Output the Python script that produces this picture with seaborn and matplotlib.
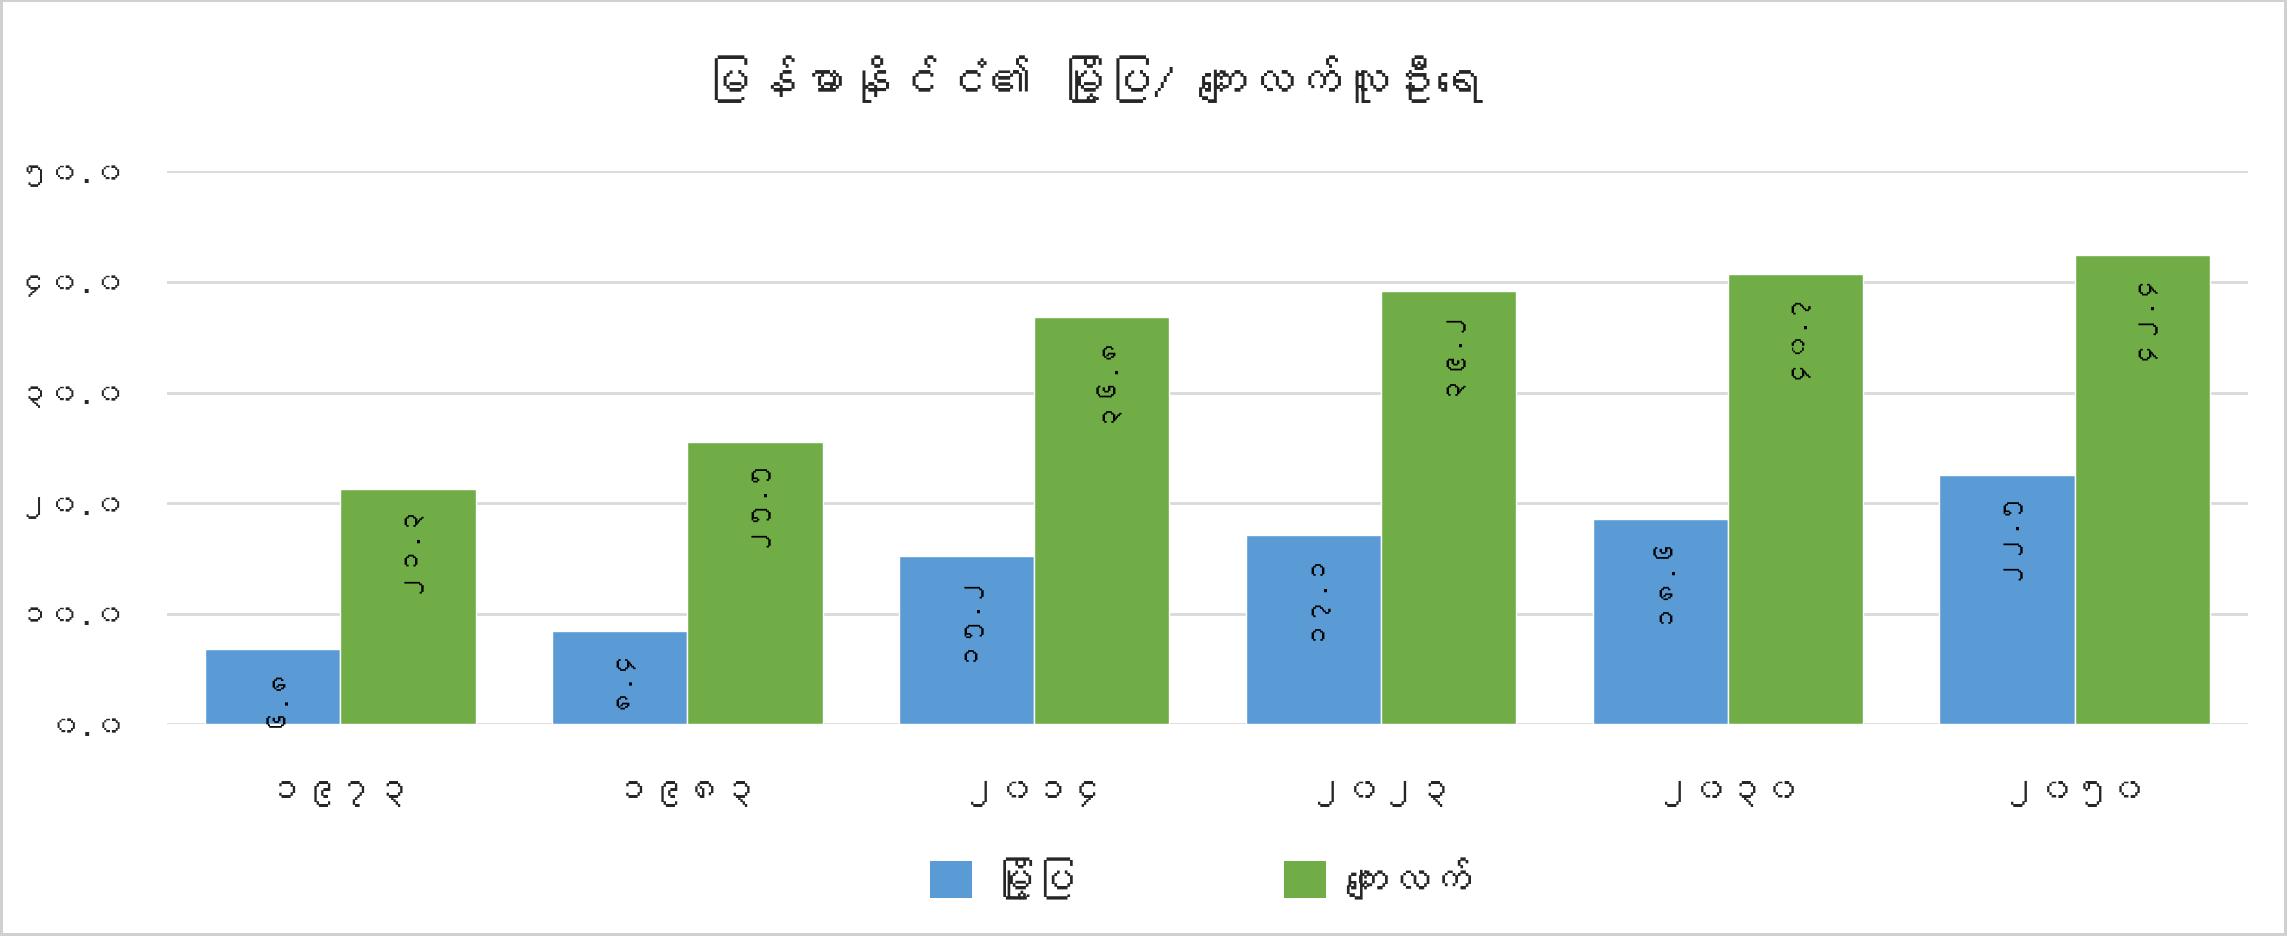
import matplotlib
matplotlib.use("Agg")
import matplotlib.pyplot as plt
import pandas as pd
import seaborn as sns
from matplotlib import font_manager, ft2font
from matplotlib.patches import Patch

years = ["၁၉၇၃", "၁၉၈၃", "၂၀၁၄", "၂၀၂၃", "၂၀၃၀", "၂၀၅၀"]
urban = [6.8, 8.4, 15.2, 17.1, 18.6, 22.5]
rural = [21.3, 25.5, 36.8, 39.2, 40.7, 42.4]
series = ["မြို့ပြ", "ကျေးလက်"]
title = "မြန်မာနိုင်ငံ၏ မြို့ပြ/ ကျေးလက်လူဦးရေ"
colors = ["#5B9BD5", "#70AD47"]

MM_DIGITS = str.maketrans("0123456789", "၀၁၂၃၄၅၆၇၈၉")


def mm(v):
    return f"{v:.1f}".translate(MM_DIGITS)


# look for any installed font that has Myanmar digits
def myanmar_font():
    for f in font_manager.fontManager.ttflist:
        try:
            if 0x1041 in ft2font.FT2Font(f.fname).get_charmap():
                return f.name
        except Exception:
            pass
    return None


sns.set_theme(style="white")
mmfont = myanmar_font()
plt.rcParams["font.family"] = [mmfont, "DejaVu Sans"] if mmfont else ["DejaVu Sans"]

df = pd.DataFrame({
    "year": years * 2,
    "value": urban + rural,
    "area": [series[0]] * len(years) + [series[1]] * len(years),
})

fig = plt.figure(figsize=(22.87, 9.37), dpi=100)
fig.patch.set_edgecolor("#d0d0d0")
fig.patch.set_linewidth(3)
ax = fig.add_axes([0.073, 0.226, 0.91, 0.59])

sns.barplot(data=df, x="year", y="value", hue="area", palette=colors,
            width=0.78, gap=0, saturation=1, legend=False, ax=ax)

ax.set_ylim(0, 50)
ax.set_yticks(range(0, 51, 10))
ax.set_yticklabels([mm(t) for t in range(0, 51, 10)], fontsize=22)
ax.set_xticklabels(years, fontsize=26)
ax.tick_params(axis="x", pad=38, length=0)
ax.tick_params(axis="y", pad=30, length=0)
ax.set_xlabel("")
ax.set_ylabel("")
ax.yaxis.grid(True, color="#d9d9d9", linewidth=2)
ax.set_axisbelow(True)
for s in ["top", "right", "left", "bottom"]:
    ax.spines[s].set_visible(False)

for cont in ax.containers:
    texts = ax.bar_label(cont, labels=[mm(v) for v in cont.datavalues],
                         label_type="edge", padding=-8, rotation=90,
                         fontsize=19, color="black")
    for t in texts:
        t.set_va("top")

fig.text(0.478, 0.915, title, ha="center", va="center", fontsize=34,
         fontweight="bold")

handles = [Patch(facecolor=c, edgecolor="none") for c in colors]
fig.legend(handles, series, loc="center", bbox_to_anchor=(0.525, 0.062),
           ncol=2, frameon=False, fontsize=30, columnspacing=5,
           handlelength=1.0, handleheight=1.0, handletextpad=0.5)

fig.savefig("out.png", dpi=100)
